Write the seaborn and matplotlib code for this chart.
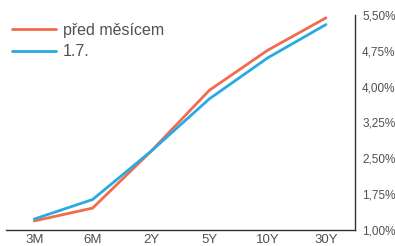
import pandas as pd
import seaborn as sns
import matplotlib
matplotlib.use("Agg")
import matplotlib.pyplot as plt
from matplotlib.ticker import FuncFormatter

# data
splatnost = ['3M', '6M', '2Y', '5Y', '10Y', '30Y']
pred_mesicem = [1.18, 1.45, 2.64, 3.92, 4.76, 5.44]
k_1_7 = [1.22, 1.63, 2.64, 3.74, 4.60, 5.30]
y_ticks = [1.00, 1.75, 2.50, 3.25, 4.00, 4.75, 5.50]

df = pd.DataFrame({
    'splatnost': splatnost * 2,
    'sazba': pred_mesicem + k_1_7,
    'serie': ['před měsícem'] * 6 + ['1.7.'] * 6,
})

sns.set_style('white')
plt.rcParams['font.family'] = ['Liberation Sans', 'DejaVu Sans']

fig = plt.figure(figsize=(3.95, 2.46), dpi=100)
ax = fig.add_axes([0.016, 0.067, 0.883, 0.872])

sns.lineplot(data=df, x='splatnost', y='sazba', hue='serie', sort=False,
             palette={'před měsícem': '#f26b4f', '1.7.': '#28aae2'},
             linewidth=2.0, ax=ax)

ax.set_xlim(-0.48, 5.5)
ax.set_ylim(1.0, 5.5)
ax.set_yticks(y_ticks)
ax.yaxis.set_major_formatter(FuncFormatter(lambda v, p: f'{v:.2f}'.replace('.', ',') + '%'))
ax.yaxis.tick_right()
ax.tick_params(axis='y', length=0, pad=5, labelsize=8.5, labelcolor='#505050')
ax.tick_params(axis='x', length=0, pad=3, labelsize=9.5, labelcolor='#505050')
ax.set_xlabel('')
ax.set_ylabel('')

for s in ['top', 'left']:
    ax.spines[s].set_visible(False)
for s in ['right', 'bottom']:
    ax.spines[s].set_color('#333333')
    ax.spines[s].set_linewidth(1.0)

leg = ax.legend(loc='upper left', bbox_to_anchor=(-0.015, 1.015), frameon=False,
                fontsize=11.5, handlelength=2.75, handletextpad=0.4,
                labelspacing=0.4, borderaxespad=0.3)
for t in leg.get_texts():
    t.set_color('#505050')
for l in leg.get_lines():
    l.set_linewidth(2.0)

fig.savefig('out.png', dpi=100)
